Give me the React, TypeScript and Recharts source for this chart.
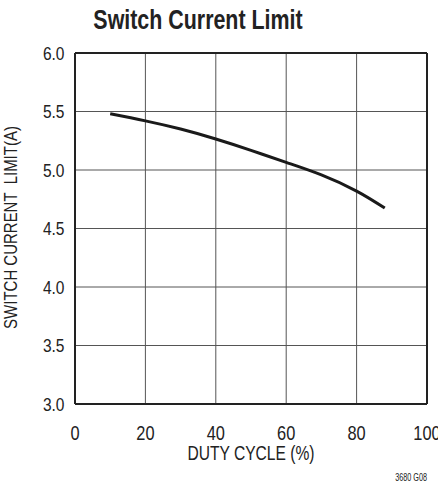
import { LineChart, Line, XAxis, YAxis, CartesianGrid, ReferenceLine } from "recharts";

const dutyCycle = [10, 20, 30, 40, 50, 60, 70, 80, 88];
const currentLimit = [5.48, 5.42, 5.35, 5.265, 5.168, 5.065, 4.958, 4.82, 4.675];
const xTicks = [0, 20, 40, 60, 80, 100];
const yTicks = [3.0, 3.5, 4.0, 4.5, 5.0, 5.5, 6.0];

const data = dutyCycle.map((d, i) => ({ duty: d, limit: currentLimit[i] }));

const FONT = "'Liberation Sans', Arial, sans-serif";
const INK = "#222";

// condensed look: Liberation Sans squeezed horizontally
const XTick = (props: any) => {
  const { x, y, payload } = props;
  return (
    <g transform={`translate(${x},${y + 27.5}) scale(0.82,1)`}>
      <text textAnchor="middle" fill={INK} fontSize={20} fontFamily={FONT}>
        {payload.value}
      </text>
    </g>
  );
};

const YTick = (props: any) => {
  const { y, payload } = props;
  return (
    <g transform={`translate(64.5,${y + 6.7}) scale(0.84,1)`}>
      <text textAnchor="end" fill={INK} fontSize={18.5} fontFamily={FONT}>
        {Number(payload.value).toFixed(1)}
      </text>
    </g>
  );
};

export default function App() {
  return (
    <div style={{ position: "absolute", left: 0, top: 0, width: 438, height: 488, background: "#fff" }}>
      <LineChart width={438} height={488} data={data} margin={{ top: 53, right: 11, left: 0, bottom: 0 }}>
        <CartesianGrid stroke="#555" strokeWidth={1} />
        <XAxis
          dataKey="duty"
          type="number"
          domain={[0, 100]}
          ticks={xTicks}
          height={84}
          tickLine={false}
          axisLine={{ stroke: INK, strokeWidth: 2 }}
          tick={<XTick />}
          interval={0}
        />
        <YAxis
          type="number"
          domain={[3, 6]}
          ticks={yTicks}
          width={75}
          tickLine={false}
          axisLine={{ stroke: INK, strokeWidth: 2 }}
          tick={<YTick />}
          interval={0}
        />
        <ReferenceLine x={100} stroke={INK} strokeWidth={2} />
        <ReferenceLine y={6} stroke={INK} strokeWidth={2} />
        <Line
          dataKey="limit"
          type="natural"
          stroke="#1a1a1a"
          strokeWidth={3}
          dot={false}
          isAnimationActive={false}
        />
      </LineChart>
      <svg width={438} height={488} style={{ position: "absolute", left: 0, top: 0, pointerEvents: "none" }}>
        <g transform="translate(198,29.3) scale(0.765,1)">
          <text textAnchor="middle" fill={INK} fontSize={28} fontWeight="bold" fontFamily={FONT}>
            Switch Current Limit
          </text>
        </g>
        <g transform="translate(251,460) scale(0.78,1)">
          <text textAnchor="middle" fill={INK} fontSize={20} fontFamily={FONT}>
            DUTY CYCLE (%)
          </text>
        </g>
        <g transform="translate(16.5,227.5) rotate(-90) scale(0.81,1)">
          <text textAnchor="middle" fill={INK} fontSize={18.5} fontFamily={FONT} style={{ whiteSpace: "pre" }}>
            SWITCH CURRENT  LIMIT(A)
          </text>
        </g>
        <g transform="translate(427,480.7) scale(0.66,1)">
          <text textAnchor="end" fill={INK} fontSize={11} fontFamily={FONT}>
            3680 G08
          </text>
        </g>
      </svg>
    </div>
  );
}
